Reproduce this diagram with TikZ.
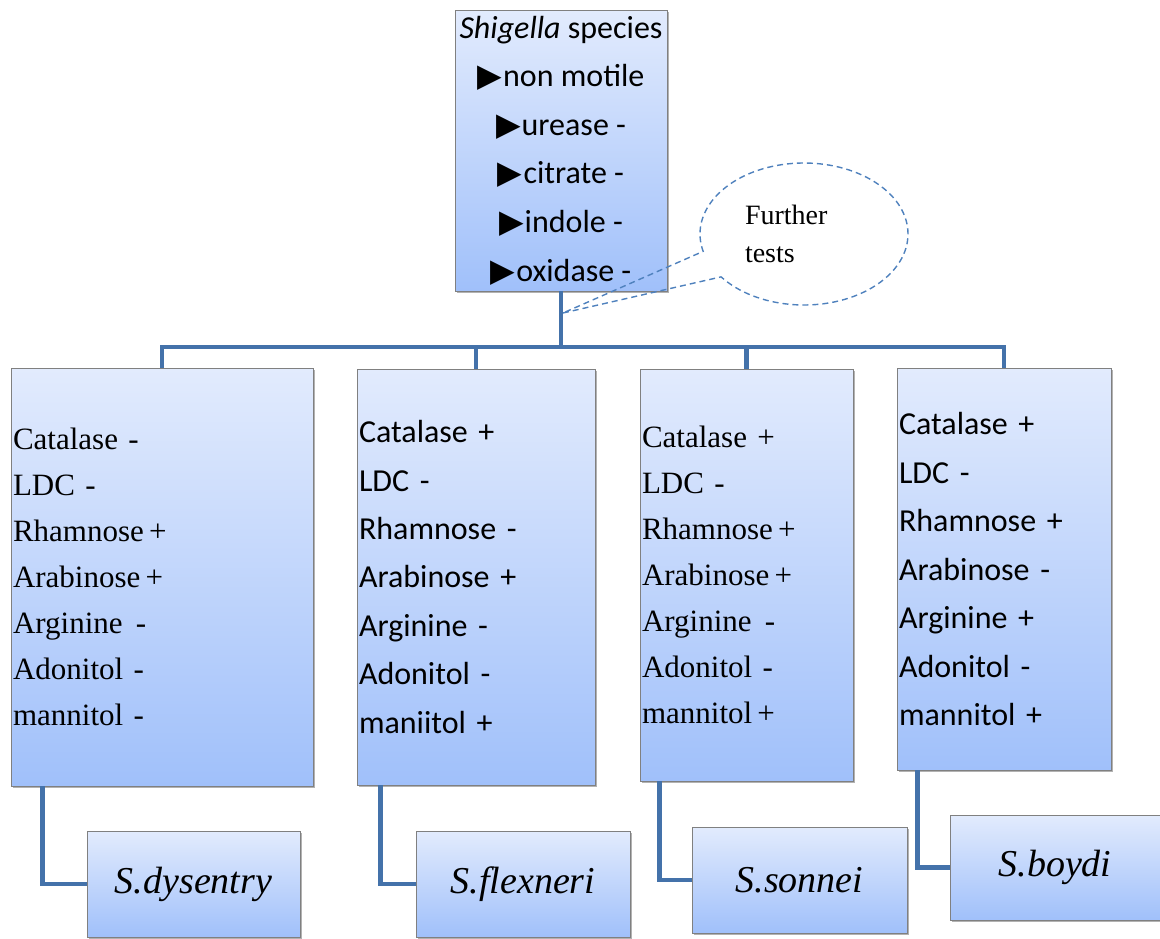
\documentclass[tikz,border=0pt]{standalone}
\usepackage{fontspec}
\setmainfont{Liberation Serif}
\newfontfamily\calib{Carlito}
\newfontfamily\symb{DejaVu Sans}
\usetikzlibrary{shapes.callouts, shadows}

\definecolor{boxtop}{RGB}{226,235,253}
\definecolor{boxbot}{RGB}{160,192,250}
\definecolor{linkblue}{RGB}{68,114,170}
\definecolor{noteblue}{RGB}{79,129,189}

\newcommand{\tri}{{\symb\fontsize{32}{32}\selectfont ▶}\kern1pt}

\begin{document}
\begin{tikzpicture}[x=1pt, y=-1pt,
    box/.style={draw=gray, line width=0.8pt, top color=boxtop, bottom color=boxbot,
        drop shadow={shadow xshift=2pt, shadow yshift=-2pt, opacity=0.3, fill=black}},
    serifbox/.style={box, align=left, inner xsep=2pt, inner ysep=0pt, font=\fontsize{31}{46}\selectfont},
    sansbox/.style={box, align=left, inner xsep=2pt, inner ysep=0pt, font=\calib\fontsize{32}{48.5}\selectfont},
    species/.style={box, align=center, minimum height=106pt, font=\fontsize{38}{44}\selectfont\itshape},
    link/.style={draw=linkblue, line width=4.5pt}]

    \useasboundingbox (0,0) rectangle (1160,938);

    \node [box, align=center, minimum width=212pt, minimum height=281pt, inner sep=0pt,
        font=\calib\fontsize{32}{48.6}\selectfont] (top) at (561,150.5)
        {\textit{Shigella} species\\ \tri non motile\\ \tri urease -\\ \tri citrate -\\ \tri indole -\\ \tri oxidase -};

    \node [serifbox, text width=298pt, minimum height=418pt] (b1) at (162,577)
        {Catalase -\\ LDC -\\ Rhamnose\,+\\ Arabinose\,+\\ Arginine\kern3pt\ -\\ Adonitol -\\ mannitol -};
    \node [sansbox, text width=234pt, minimum height=416pt] (b2) at (476,577)
        {Catalase +\\ LDC -\\ Rhamnose -\\ Arabinose +\\ Arginine -\\ Adonitol -\\ maniitol +};
    \node [serifbox, text width=209pt, minimum height=412pt] (b3) at (746.5,575)
        {Catalase +\\ LDC -\\ Rhamnose\,+\\ Arabinose\,+\\ Arginine\kern3pt\ -\\ Adonitol -\\ mannitol\,+};
    \node [sansbox, text width=210pt, minimum height=402pt] (b4) at (1004,569)
        {Catalase +\\ LDC -\\ Rhamnose +\\ Arabinose -\\ Arginine +\\ Adonitol -\\ mannitol +};

    \node [species, minimum width=213pt] (c1) at (193.5,884) {S.dysentry};
    \node [species, minimum width=214pt] (c2) at (523,884) {S.flexneri};
    \node [species, minimum width=215pt] (c3) at (799.5,880) {S.sonnei};
    \node [species, minimum width=210pt, minimum height=105pt] (c4) at (1055,867.5) {S.boydi};

    \coordinate (split) at (561,347);
    \coordinate (tip) at (563,313);

    \draw [link] (top.south) -- (split);
    \draw [link] (split) -| (b1.north);
    \draw [link] (split) -| (b2.north);
    \draw [link] (split) -| (b3.north);
    \draw [link] (split) -| (b4.north);

    \draw [link] ([xshift=32pt]b1.south west) |- (c1.west);
    \draw [link] ([xshift=24pt]b2.south west) |- (c2.west);
    \draw [link] ([xshift=20pt]b3.south west) |- (c3.west);
    \draw [link] ([xshift=21pt]b4.south west) |- (c4.west);

    \node [ellipse callout, callout absolute pointer={(tip)}, callout pointer arc=23,
        draw=noteblue, line width=1.4pt, dash pattern=on 6pt off 4pt,
        minimum width=208pt, minimum height=142pt, inner sep=0pt,
        text width=118pt, align=left, font=\fontsize{28}{38}\selectfont] (note) at (804,234)
        {Further\\ tests};

\end{tikzpicture}
\end{document}
